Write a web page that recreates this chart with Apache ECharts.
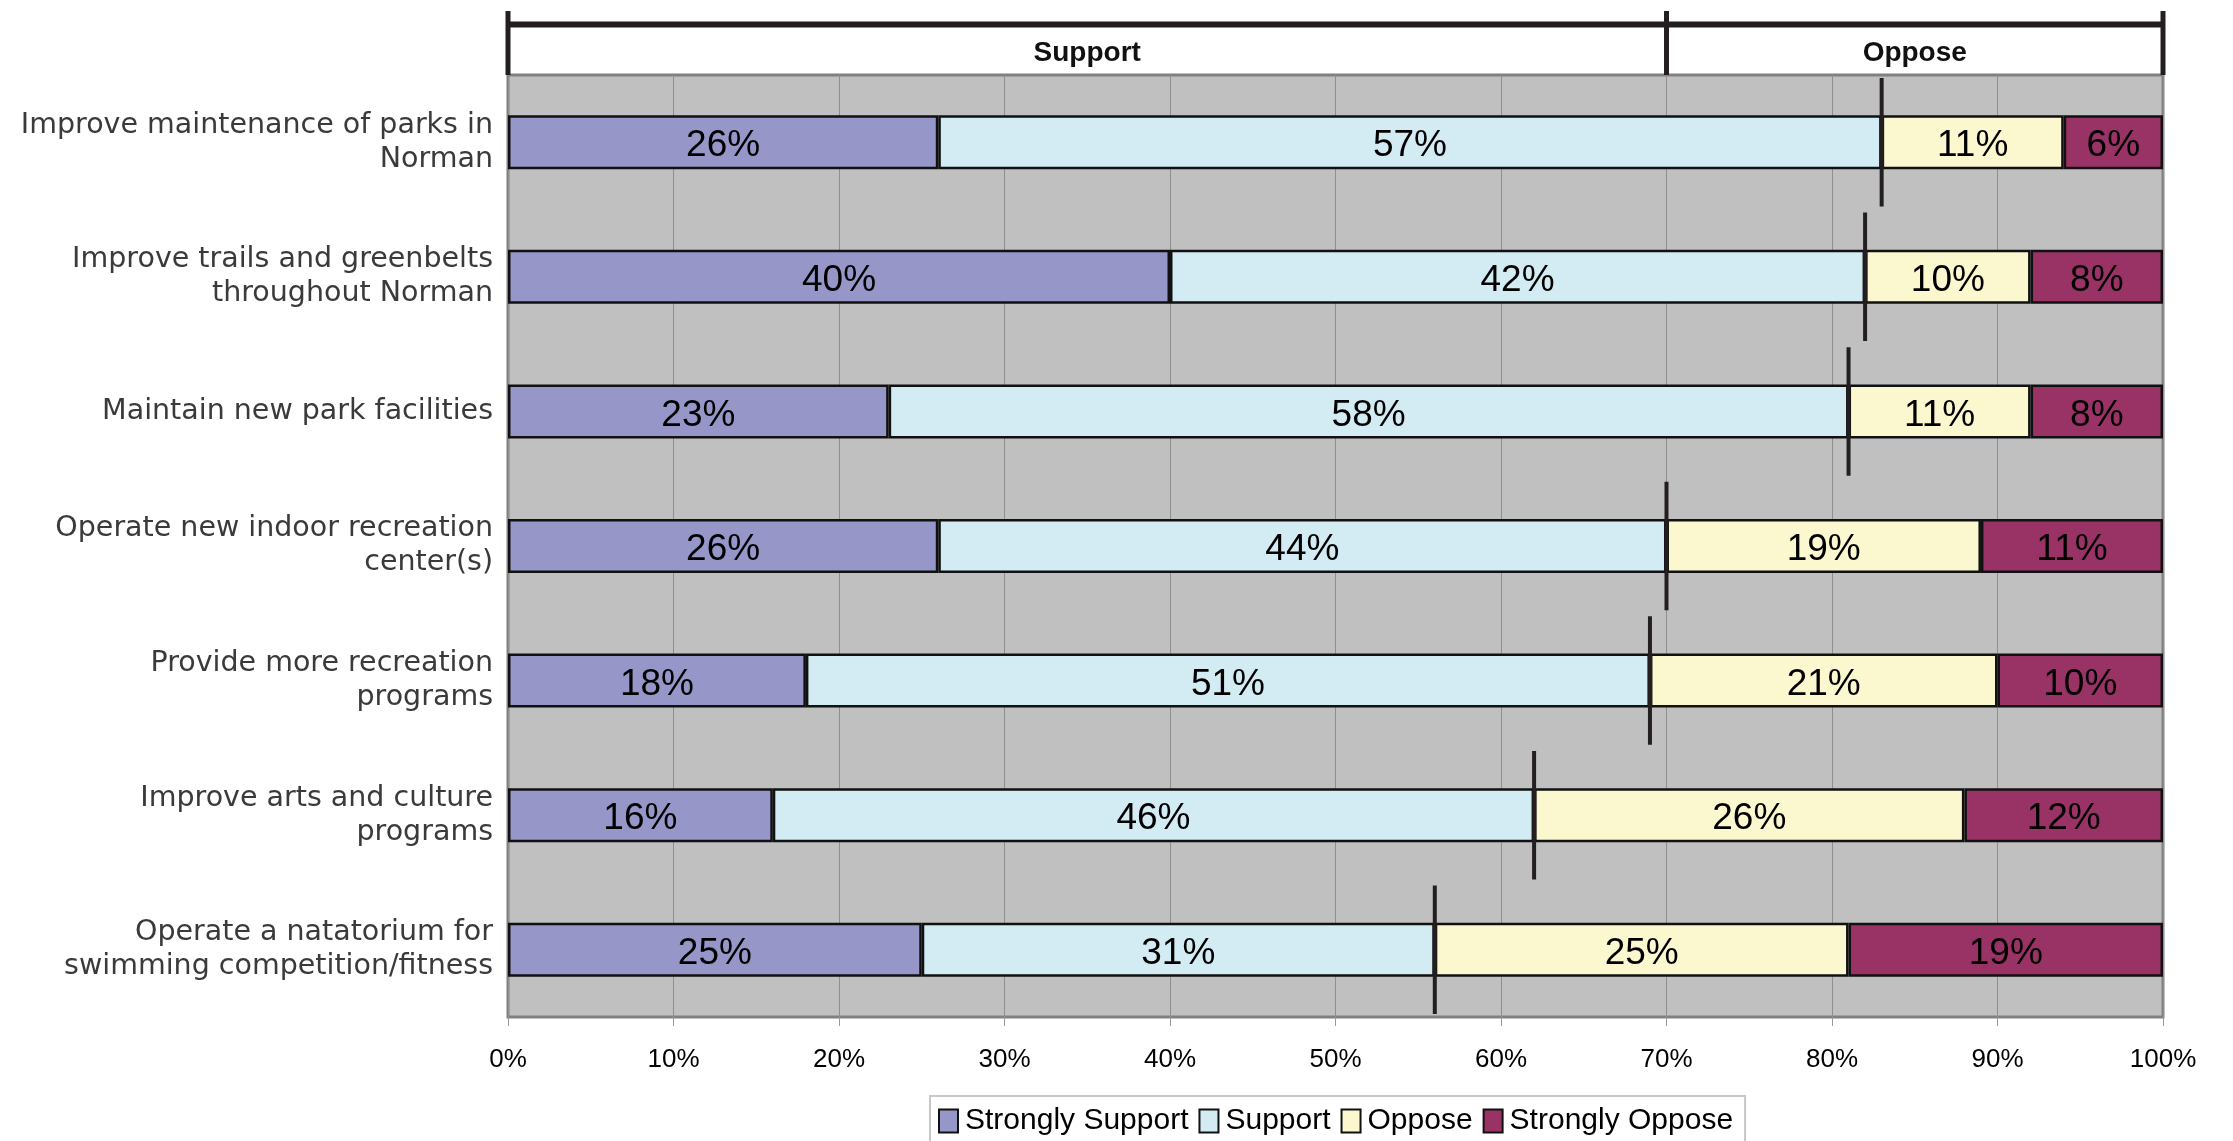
<!DOCTYPE html>
<html><head><meta charset="utf-8">
<script src="https://cdn.jsdelivr.net/npm/echarts@6/dist/echarts.min.js"></script>
<style>html,body{margin:0;padding:0;background:#fff}#c{width:2233px;height:1141px}</style>
</head><body><div id="c"></div>
<script>
const categories = [
  "Improve maintenance of parks in\nNorman",
  "Improve trails and greenbelts\nthroughout Norman",
  "Maintain new park facilities",
  "Operate new indoor recreation\ncenter(s)",
  "Provide more recreation\nprograms",
  "Improve arts and culture\nprograms",
  "Operate a natatorium for\nswimming competition/fitness"
];
const stronglySupport = [26, 40, 23, 26, 18, 16, 25];
const support         = [57, 42, 58, 44, 51, 46, 31];
const oppose          = [11, 10, 11, 19, 21, 26, 25];
const stronglyOppose  = [6, 8, 8, 11, 10, 12, 19];
const seriesNames = ["Strongly Support", "Support", "Oppose", "Strongly Oppose"];
const colors = ["#9696c8", "#d3ebf3", "#fbf8d0", "#993366"];
const headerGroups = [[0, 70, "Support"], [70, 100, "Oppose"]];
const xTicks = [0, 10, 20, 30, 40, 50, 60, 70, 80, 90, 100];

const supportTotals = stronglySupport.map((v, i) => [v + support[i], i]);

const chart = echarts.init(document.getElementById('c'), null, {renderer: 'canvas'});
const valueSets = [stronglySupport, support, oppose, stronglyOppose];

const barSeries = valueSets.map((vals, k) => ({
  name: seriesNames[k],
  type: 'bar',
  stack: 'all',
  xAxisIndex: 0, yAxisIndex: 0,
  barWidth: 54,
  data: vals,
  itemStyle: {color: colors[k], borderColor: '#111', borderWidth: 2.5},
  label: {
    show: true, position: 'inside', formatter: '{c}%', offset: [0, 4],
    color: '#000', fontFamily: 'Liberation Sans', fontSize: 37
  },
  z: 2
}));

const option = {
  animation: false,
  backgroundColor: '#fff',
  grid: [
    {left: 508, right: 70, top: 75, bottom: 124, show: true, backgroundColor: '#c0c0c0', borderColor: '#808080', borderWidth: 3},
    {left: 508, right: 70, top: 11, height: 64, show: false}
  ],
  xAxis: [
    {type: 'value', gridIndex: 0, min: 0, max: 100, interval: 10,
     axisLine: {show: false},
     axisTick: {show: true, length: 9, lineStyle: {color: '#999', width: 1}},
     splitLine: {show: true, lineStyle: {color: '#8f8f8f', width: 1}},
     axisLabel: {formatter: v => xTicks.includes(v) ? v + '%' : '', margin: 30, color: '#000', fontFamily: 'Liberation Sans', fontSize: 26}},
    {type: 'value', gridIndex: 1, min: 0, max: 100, show: false}
  ],
  yAxis: [
    {type: 'category', gridIndex: 0, data: categories, inverse: true,
     axisLine: {show: false}, axisTick: {show: false},
     axisLabel: {margin: 15, color: '#3a3a3a', fontFamily: 'DejaVu Sans', fontSize: 28.5, lineHeight: 34, align: 'right'}},
    {type: 'value', gridIndex: 1, min: 0, max: 1, show: false}
  ],
  legend: {
    data: seriesNames,
    left: 930, top: 1096,
    padding: [10, 12, 12, 8],
    itemGap: 10, itemWidth: 19, itemHeight: 23,
    borderColor: '#c8c8c8', borderWidth: 2,
    textStyle: {color: '#000', fontFamily: 'Liberation Sans', fontSize: 30, padding: [2, 0, 0, 2]},
    icon: 'rect'
  },
  series: barSeries.concat([
    {
      type: 'custom', xAxisIndex: 0, yAxisIndex: 0, z: 5,
      data: supportTotals,
      renderItem: function (params, api) {
        const p = api.coord([api.value(0), api.value(1)]);
        const band = api.size([0, 1])[1];
        const h = band * 0.955;
        return {type: 'line', shape: {x1: p[0], y1: p[1] - h / 2, x2: p[0], y2: p[1] + h / 2},
                style: {stroke: '#231f20', lineWidth: 4}};
      },
      silent: true
    },
    {
      type: 'custom', xAxisIndex: 1, yAxisIndex: 1, z: 5,
      data: headerGroups,
      renderItem: function (params, api) {
        const a = api.coord([api.value(0), 1]);
        const b = api.coord([api.value(1), 0]);
        const yl = api.coord([0, 0.79])[1];
        const yt = api.coord([0, 0.34])[1];
        return {type: 'group', children: [
          {type: 'line', shape: {x1: a[0], y1: yl, x2: b[0], y2: yl}, style: {stroke: '#231f20', lineWidth: 6}},
          {type: 'line', shape: {x1: a[0], y1: a[1], x2: a[0], y2: b[1]}, style: {stroke: '#231f20', lineWidth: 5}},
          {type: 'line', shape: {x1: b[0], y1: a[1], x2: b[0], y2: b[1]}, style: {stroke: '#231f20', lineWidth: 5}},
          {type: 'text', x: (a[0] + b[0]) / 2, y: yt,
           style: {text: api.value(2), fill: '#111', font: 'bold 28px "Liberation Sans"', align: 'center', verticalAlign: 'middle'}}
        ]};
      },
      silent: true
    }
  ])
};
chart.setOption(option);
</script></body></html>
